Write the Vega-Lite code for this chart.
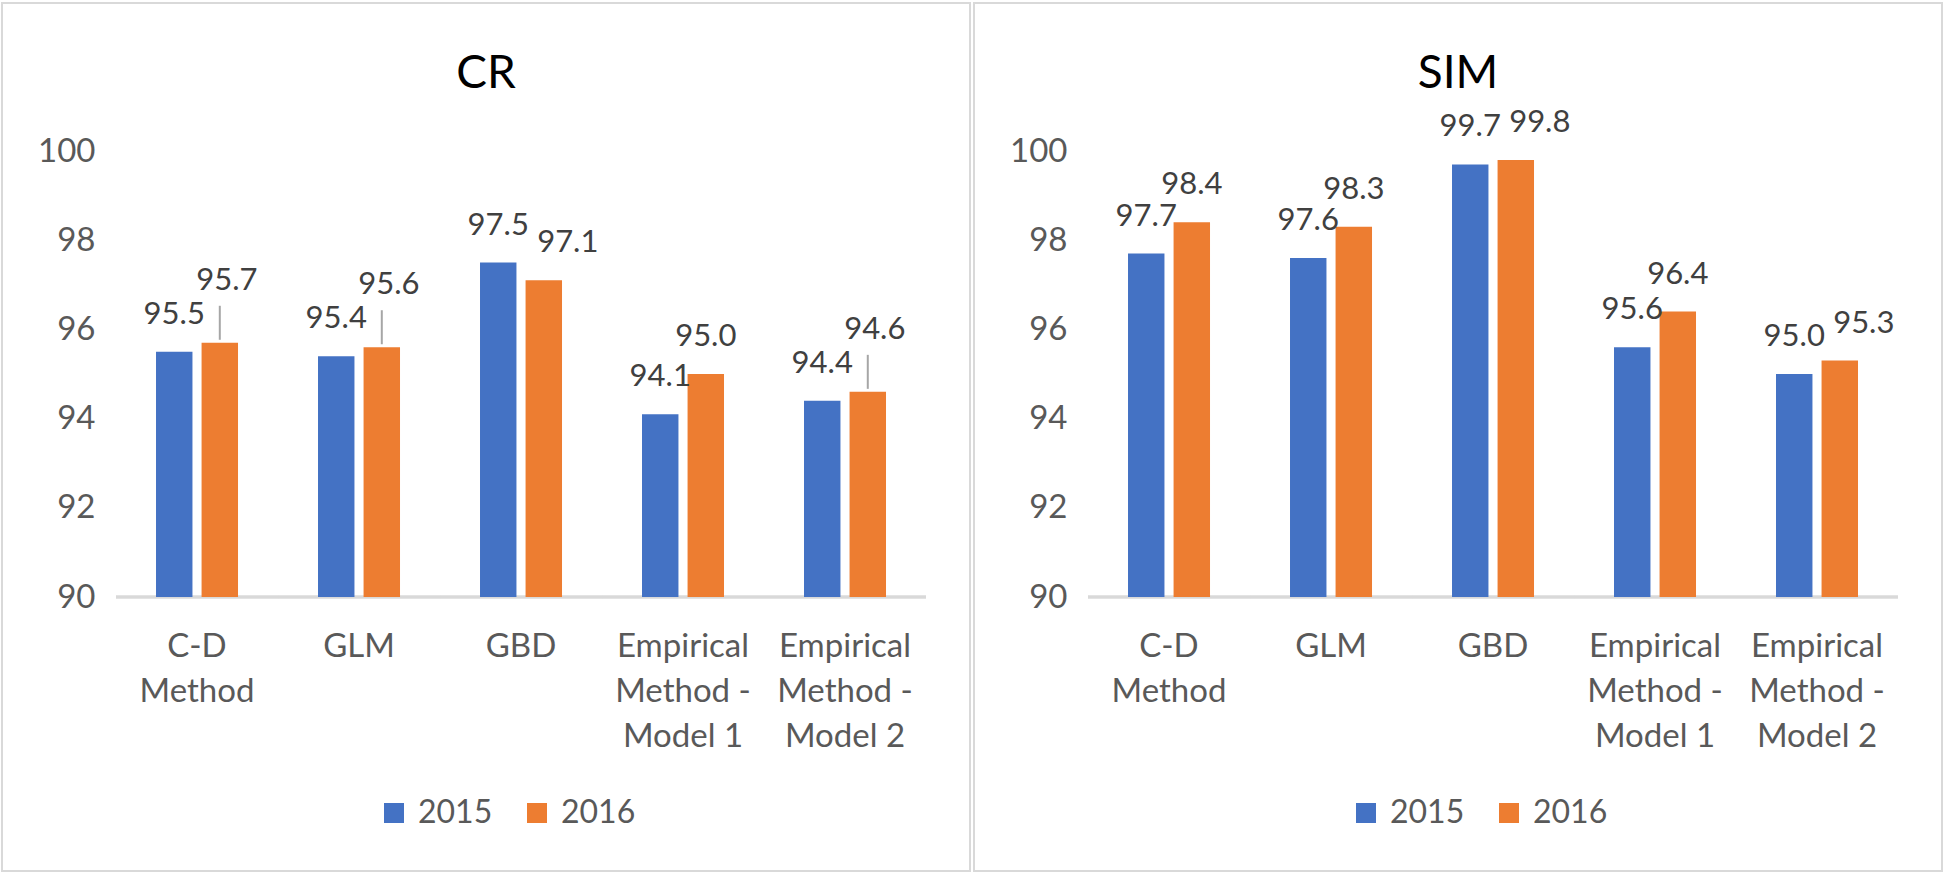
{
  "$schema": "https://vega.github.io/schema/vega-lite/v6.json",
  "background": "white",
  "padding": {"left": 1, "top": 2, "right": 0, "bottom": 0},
  "spacing": 2,
  "data": {
    "values": [
      {"panel": "CR", "method": "C-D Method", "year": "2015", "value": 95.5},
      {"panel": "CR", "method": "C-D Method", "year": "2016", "value": 95.7},
      {"panel": "CR", "method": "GLM", "year": "2015", "value": 95.4},
      {"panel": "CR", "method": "GLM", "year": "2016", "value": 95.6},
      {"panel": "CR", "method": "GBD", "year": "2015", "value": 97.5},
      {"panel": "CR", "method": "GBD", "year": "2016", "value": 97.1},
      {"panel": "CR", "method": "Empirical Method - Model 1", "year": "2015", "value": 94.1},
      {"panel": "CR", "method": "Empirical Method - Model 1", "year": "2016", "value": 95.0},
      {"panel": "CR", "method": "Empirical Method - Model 2", "year": "2015", "value": 94.4},
      {"panel": "CR", "method": "Empirical Method - Model 2", "year": "2016", "value": 94.6},
      {"panel": "SIM", "method": "C-D Method", "year": "2015", "value": 97.7},
      {"panel": "SIM", "method": "C-D Method", "year": "2016", "value": 98.4},
      {"panel": "SIM", "method": "GLM", "year": "2015", "value": 97.6},
      {"panel": "SIM", "method": "GLM", "year": "2016", "value": 98.3},
      {"panel": "SIM", "method": "GBD", "year": "2015", "value": 99.7},
      {"panel": "SIM", "method": "GBD", "year": "2016", "value": 99.8},
      {"panel": "SIM", "method": "Empirical Method - Model 1", "year": "2015", "value": 95.6},
      {"panel": "SIM", "method": "Empirical Method - Model 1", "year": "2016", "value": 96.4},
      {"panel": "SIM", "method": "Empirical Method - Model 2", "year": "2015", "value": 95.0},
      {"panel": "SIM", "method": "Empirical Method - Model 2", "year": "2016", "value": 95.3}
    ]
  },
  "resolve": {"scale": {"color": "independent"}, "legend": {"color": "independent"}},
  "hconcat": [
    {
      "width": 968,
      "height": 868,
      "title": {"text": "CR", "offset": -95},
      "transform": [{"filter": "datum.panel === 'CR'"}],
      "encoding": {
        "x": {
          "field": "method", "type": "nominal",
          "sort": ["C-D Method", "GLM", "GBD", "Empirical Method - Model 1", "Empirical Method - Model 2"],
          "scale": {"paddingInner": 0.4938, "paddingOuter": 0.7346, "align": 0.6471, "round": false},
          "axis": {"offset": -274}
        },
        "y": {
          "field": "value", "type": "quantitative",
          "scale": {"domain": [83.8565, 103.3184], "nice": false, "zero": false},
          "axis": {"offset": -93, "values": [90, 92, 94, 96, 98, 100]}
        }
      },
      "layer": [
        {
          "mark": {"type": "bar", "color": "#d9d9d9", "width": {"band": 1.9756}},
          "encoding": {
            "y": {"datum": 90.034, "type": "quantitative", "scale": {"domain": [83.8565, 103.3184], "nice": false, "zero": false}, "axis": {"offset": -93, "values": [90, 92, 94, 96, 98, 100]}},
            "y2": {"datum": 89.966}
          }
        },
        {
          "mark": {"type": "bar"},
          "encoding": {
            "xOffset": {"field": "year", "type": "nominal", "scale": {"paddingInner": 0.2, "paddingOuter": 0}},
            "y2": {"datum": 90},
            "color": {"field": "year", "type": "nominal", "scale": {"domain": ["2015", "2016"], "range": ["#4472C4", "#ED7D31"]}}
          }
        },
        {
          "transform": [{"filter": "!(datum.year === '2016' && (datum.method === 'C-D Method' || datum.method === 'GLM' || datum.method === 'GBD' || datum.method === 'Empirical Method - Model 2'))"}],
          "mark": {"type": "text", "dy": -28, "baseline": "alphabetic", "fontSize": 31, "color": "#404040"},
          "encoding": {
            "xOffset": {"field": "year", "type": "nominal", "scale": {"paddingInner": 0.2, "paddingOuter": 0}},
            "text": {"field": "value", "type": "quantitative", "format": ".1f"}
          }
        },
        {
          "transform": [{"filter": "datum.year === '2016' && datum.method === 'GBD'"}],
          "mark": {"type": "text", "dy": -28, "dx": 24, "baseline": "alphabetic", "fontSize": 31, "color": "#404040"},
          "encoding": {
            "xOffset": {"field": "year", "type": "nominal", "scale": {"paddingInner": 0.2, "paddingOuter": 0}},
            "text": {"field": "value", "type": "quantitative", "format": ".1f"}
          }
        },
        {
          "transform": [{"filter": "datum.year === '2016' && (datum.method === 'C-D Method' || datum.method === 'GLM' || datum.method === 'Empirical Method - Model 2')"}],
          "mark": {"type": "text", "dy": -53, "dx": 7, "baseline": "alphabetic", "fontSize": 31, "color": "#404040"},
          "encoding": {
            "xOffset": {"field": "year", "type": "nominal", "scale": {"paddingInner": 0.2, "paddingOuter": 0}},
            "text": {"field": "value", "type": "quantitative", "format": ".1f"}
          }
        },
        {
          "transform": [{"filter": "datum.year === '2016' && (datum.method === 'C-D Method' || datum.method === 'GLM' || datum.method === 'Empirical Method - Model 2')"}],
          "mark": {"type": "rule", "color": "#a6a6a6", "strokeWidth": 2, "yOffset": -3, "y2Offset": -37},
          "encoding": {
            "xOffset": {"field": "year", "type": "nominal", "scale": {"paddingInner": 0.2, "paddingOuter": 0}},
            "y2": {"field": "value"}
          }
        }
      ]
    },
    {
      "width": 968,
      "height": 868,
      "title": {"text": "SIM", "offset": -95},
      "transform": [{"filter": "datum.panel === 'SIM'"}],
      "encoding": {
        "x": {
          "field": "method", "type": "nominal",
          "sort": ["C-D Method", "GLM", "GBD", "Empirical Method - Model 1", "Empirical Method - Model 2"],
          "scale": {"paddingInner": 0.4938, "paddingOuter": 0.7346, "align": 0.6471, "round": false},
          "axis": {"offset": -274}
        },
        "y": {
          "field": "value", "type": "quantitative",
          "scale": {"domain": [83.8565, 103.3184], "nice": false, "zero": false},
          "axis": {"offset": -93, "values": [90, 92, 94, 96, 98, 100]}
        }
      },
      "layer": [
        {
          "mark": {"type": "bar", "color": "#d9d9d9", "width": {"band": 1.9756}},
          "encoding": {
            "y": {"datum": 90.034, "type": "quantitative", "scale": {"domain": [83.8565, 103.3184], "nice": false, "zero": false}, "axis": {"offset": -93, "values": [90, 92, 94, 96, 98, 100]}},
            "y2": {"datum": 89.966}
          }
        },
        {
          "mark": {"type": "bar"},
          "encoding": {
            "xOffset": {"field": "year", "type": "nominal", "scale": {"paddingInner": 0.2, "paddingOuter": 0}},
            "y2": {"datum": 90},
            "color": {"field": "year", "type": "nominal", "scale": {"domain": ["2015", "2016"], "range": ["#4472C4", "#ED7D31"]}}
          }
        },
        {
          "transform": [{"filter": "!(datum.year === '2016' && (datum.method === 'GBD' || datum.method === 'Empirical Method - Model 2'))"}],
          "mark": {"type": "text", "dy": -28, "baseline": "alphabetic", "fontSize": 31, "color": "#404040"},
          "encoding": {
            "xOffset": {"field": "year", "type": "nominal", "scale": {"paddingInner": 0.2, "paddingOuter": 0}},
            "text": {"field": "value", "type": "quantitative", "format": ".1f"}
          }
        },
        {
          "transform": [{"filter": "datum.year === '2016' && (datum.method === 'GBD' || datum.method === 'Empirical Method - Model 2')"}],
          "mark": {"type": "text", "dy": -28, "dx": 24, "baseline": "alphabetic", "fontSize": 31, "color": "#404040"},
          "encoding": {
            "xOffset": {"field": "year", "type": "nominal", "scale": {"paddingInner": 0.2, "paddingOuter": 0}},
            "text": {"field": "value", "type": "quantitative", "format": ".1f"}
          }
        }
      ]
    }
  ],
  "config": {
    "font": "Lato",
    "view": {"stroke": "#d9d9d9", "strokeWidth": 2},
    "title": {"font": "Lato", "fontSize": 46, "fontWeight": "normal", "color": "#000000", "anchor": "middle", "frame": "group", "baseline": "alphabetic"},
    "axisX": {
      "title": null, "labelAngle": 0, "domain": false, "ticks": false, "tickSize": 0, "grid": false,
      "labelPadding": 59, "labelBaseline": "alphabetic", "labelLineHeight": 45,
      "labelFont": "Lato", "labelFontSize": 33, "labelColor": "#595959", "labelLimit": 300,
      "labelExpr": "datum.value == 'C-D Method' ? ['C-D', 'Method'] : datum.value == 'Empirical Method - Model 1' ? ['Empirical', 'Method -', 'Model 1'] : datum.value == 'Empirical Method - Model 2' ? ['Empirical', 'Method -', 'Model 2'] : datum.value"
    },
    "axisY": {
      "title": null, "grid": false, "domain": false, "ticks": false, "tickSize": 0,
      "labelPadding": 0, "labelFont": "Lato", "labelFontSize": 33, "labelColor": "#595959"
    },
    "legend": {
      "orient": "none", "legendX": 376, "legendY": 794, "direction": "horizontal", "title": null,
      "symbolType": "square", "symbolSize": 400, "symbolStrokeWidth": 0, "symbolOpacity": 1,
      "labelFont": "Lato", "labelFontSize": 32, "labelColor": "#595959", "labelOffset": 8,
      "columnPadding": 28, "padding": 0
    },
    "text": {"font": "Lato"}
  }
}
